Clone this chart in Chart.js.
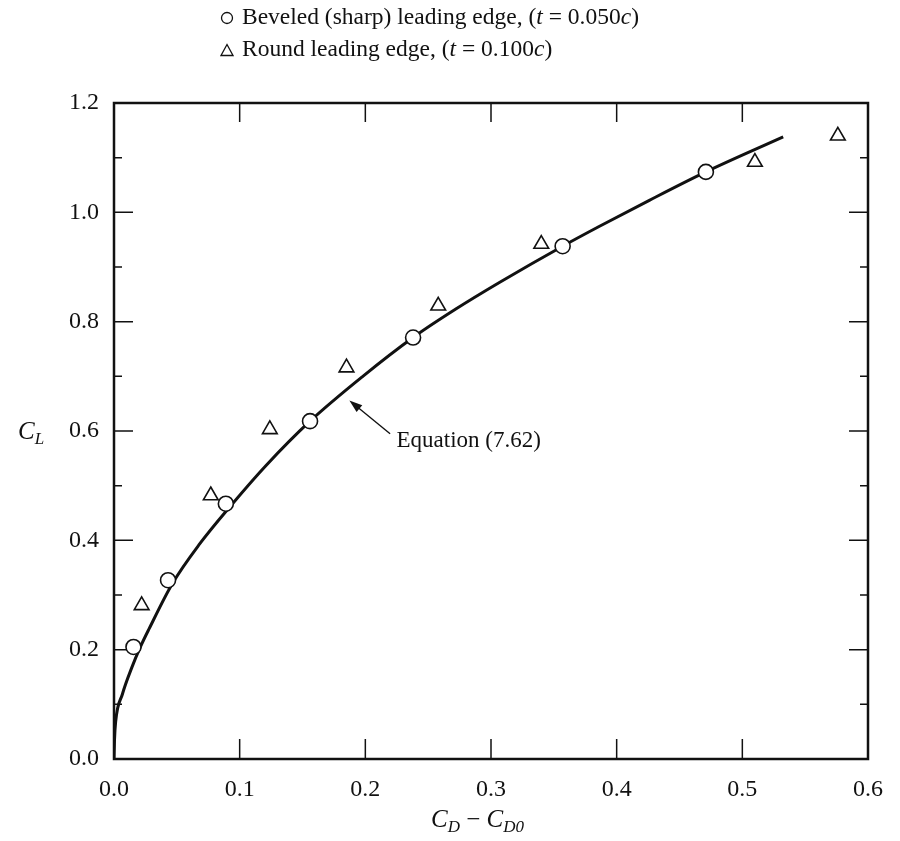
<!DOCTYPE html>
<html>
<head>
<meta charset="utf-8">
<script src="https://cdn.jsdelivr.net/npm/chart.js@4.4.1/dist/chart.umd.min.js"></script>
<style>
  html, body { margin: 0; padding: 0; background: #fff; }
  #wrap { position: relative; width: 900px; height: 841px; font-family: "Liberation Serif", "DejaVu Serif", serif; color: #111; }
  #grafica { position: absolute; left: 0; top: 0; }
  .leyenda { position: absolute; left: 220px; font-size: 23.5px; white-space: nowrap; line-height: 1; }
  .leyenda svg { vertical-align: -1px; margin-right: 8px; }
  .titulo { position: absolute; font-size: 25px; font-style: italic; white-space: nowrap; line-height: 1; }
  .titulo sub { font-size: 17px; vertical-align: -5px; }
</style>
</head>
<body>
<div id="wrap">
  <canvas id="grafica" width="900" height="841"></canvas>
  <div class="leyenda" style="top:5px;">
    <svg width="14" height="14"><circle cx="7" cy="7" r="5.5" fill="none" stroke="#111" stroke-width="1.3"/></svg>Beveled (sharp) leading edge, (<i>t</i> = 0.050<i>c</i>)
  </div>
  <div class="leyenda" style="top:37px;">
    <svg width="14" height="14"><polygon points="7,1.5 13,12.5 1,12.5" fill="none" stroke="#111" stroke-width="1.3"/></svg>Round leading edge, (<i>t</i> = 0.100<i>c</i>)
  </div>
  <div class="titulo" style="left:18px; top:418px;">C<sub>L</sub></div>
  <div class="titulo" style="left:431px; top:806px;">C<sub>D</sub> <span style="font-style:normal">&minus;</span> C<sub>D0</sub></div>
</div>
<script>
// ejes
const xTickValues = [0, 0.1, 0.2, 0.3, 0.4, 0.5, 0.6];
const xTickLabels = ['0.0', '0.1', '0.2', '0.3', '0.4', '0.5', '0.6'];
const yTickValues = [0, 0.2, 0.4, 0.6, 0.8, 1.0, 1.2];
const yTickLabels = ['0.0', '0.2', '0.4', '0.6', '0.8', '1.0', '1.2'];
const yMinorTicks = [0.1, 0.3, 0.5, 0.7, 0.9, 1.1];

// bordes biselados (t = 0.050c)
const beveledX = [0.0155, 0.043, 0.089, 0.156, 0.238, 0.357, 0.471];
const beveledY = [0.205, 0.327, 0.467, 0.618, 0.771, 0.938, 1.074];

// bordes redondos (t = 0.100c)
const roundX = [0.022, 0.077, 0.124, 0.185, 0.258, 0.340, 0.510, 0.576];
const roundY = [0.281, 0.482, 0.603, 0.716, 0.829, 0.942, 1.092, 1.140];

// curva de la ecuacion (7.62)
const curveX = [0, 0.0004, 0.0013, 0.0066, 0.0143, 0.021, 0.0279, 0.0465, 0.0677, 0.0943, 0.121, 0.156, 0.198, 0.238, 0.272, 0.307, 0.357, 0.386, 0.426, 0.471, 0.5325];
const curveY = [0, 0.035, 0.068, 0.118, 0.168, 0.205, 0.238, 0.321, 0.392, 0.467, 0.537, 0.618, 0.700, 0.771, 0.823, 0.872, 0.938, 0.974, 1.022, 1.074, 1.138];

const FONT = '"Liberation Serif", "DejaVu Serif", serif';
const INK = '#111';

function puntos(xs, ys) {
  return xs.map((x, i) => ({ x: x, y: ys[i] }));
}

// marco, ticks hacia adentro y la flecha de la ecuacion
const marco = {
  id: 'marco',
  beforeDatasetsDraw(chart) {
    const ctx = chart.ctx;
    const a = chart.chartArea;
    const sx = chart.scales.x, sy = chart.scales.y;
    ctx.save();
    ctx.strokeStyle = INK;
    ctx.lineWidth = 1.5;
    ctx.beginPath();
    xTickValues.slice(1, -1).forEach(v => {
      const px = sx.getPixelForValue(v);
      ctx.moveTo(px, a.bottom); ctx.lineTo(px, a.bottom - 20);
      ctx.moveTo(px, a.top); ctx.lineTo(px, a.top + 19);
    });
    yTickValues.slice(1, -1).forEach(v => {
      const py = sy.getPixelForValue(v);
      ctx.moveTo(a.left, py); ctx.lineTo(a.left + 19, py);
      ctx.moveTo(a.right, py); ctx.lineTo(a.right - 19, py);
    });
    yMinorTicks.forEach(v => {
      const py = sy.getPixelForValue(v);
      ctx.moveTo(a.left, py); ctx.lineTo(a.left + 8, py);
      ctx.moveTo(a.right, py); ctx.lineTo(a.right - 8, py);
    });
    ctx.stroke();
    ctx.lineWidth = 2.5;
    ctx.strokeRect(a.left, a.top, a.right - a.left, a.bottom - a.top);
    ctx.restore();
  },
  afterDraw(chart) {
    const ctx = chart.ctx;
    const sx = chart.scales.x, sy = chart.scales.y;
    const tipX = sx.getPixelForValue(0.1873), tipY = sy.getPixelForValue(0.656);
    const tailX = sx.getPixelForValue(0.2197), tailY = sy.getPixelForValue(0.595);
    const ang = Math.atan2(tipY - tailY, tipX - tailX);
    ctx.save();
    ctx.strokeStyle = INK;
    ctx.fillStyle = INK;
    ctx.lineWidth = 1.4;
    ctx.beginPath();
    ctx.moveTo(tailX, tailY);
    ctx.lineTo(tipX - 8 * Math.cos(ang), tipY - 8 * Math.sin(ang));
    ctx.stroke();
    ctx.beginPath();
    ctx.moveTo(tipX, tipY);
    ctx.lineTo(tipX - 13 * Math.cos(ang) + 4.5 * Math.sin(ang), tipY - 13 * Math.sin(ang) - 4.5 * Math.cos(ang));
    ctx.lineTo(tipX - 13 * Math.cos(ang) - 4.5 * Math.sin(ang), tipY - 13 * Math.sin(ang) + 4.5 * Math.cos(ang));
    ctx.closePath();
    ctx.fill();
    ctx.font = '23px ' + FONT;
    ctx.textBaseline = 'middle';
    ctx.fillText('Equation (7.62)', sx.getPixelForValue(0.2248), sy.getPixelForValue(0.581));
    ctx.restore();
  }
};

const ctx = document.getElementById('grafica').getContext('2d');
const grafica = new Chart(ctx, {
  type: 'scatter',
  data: {
    datasets: [
      {
        label: 'Beveled (sharp) leading edge, (t = 0.050c)',
        data: puntos(beveledX, beveledY),
        pointStyle: 'circle',
        pointRadius: 7.5,
        borderWidth: 1.6,
        borderColor: INK,
        backgroundColor: '#fff'
      },
      {
        label: 'Round leading edge, (t = 0.100c)',
        data: puntos(roundX, roundY),
        pointStyle: 'triangle',
        pointRadius: 8.5,
        borderWidth: 1.6,
        borderColor: INK,
        backgroundColor: '#fff'
      },
      {
        type: 'line',
        label: 'Equation (7.62)',
        data: puntos(curveX, curveY),
        showLine: true,
        borderColor: INK,
        borderWidth: 3,
        pointRadius: 0,
        fill: false,
        cubicInterpolationMode: 'monotone'
      }
    ]
  },
  options: {
    responsive: false,
    animation: false,
    layout: { padding: { top: 103, right: 32, left: 0, bottom: 0 } },
    plugins: {
      legend: { display: false },
      tooltip: { enabled: false }
    },
    scales: {
      x: {
        type: 'linear',
        min: 0,
        max: 0.6,
        afterBuildTicks: s => { s.ticks = xTickValues.map(v => ({ value: v })); },
        afterFit: s => { s.height = 82; },
        ticks: {
          callback: (v, i) => xTickLabels[i],
          font: { family: FONT, size: 24 },
          color: INK,
          padding: 16,
          maxRotation: 0
        },
        grid: { display: false, drawTicks: false },
        border: { display: false }
      },
      y: {
        type: 'linear',
        min: 0,
        max: 1.2,
        afterBuildTicks: s => { s.ticks = yTickValues.map(v => ({ value: v })); },
        afterFit: s => { s.width = 114; },
        ticks: {
          callback: (v, i) => yTickLabels[i],
          font: { family: FONT, size: 24 },
          color: INK,
          padding: 15
        },
        grid: { display: false, drawTicks: false },
        border: { display: false }
      }
    }
  },
  plugins: [marco]
});
</script>
</body>
</html>
